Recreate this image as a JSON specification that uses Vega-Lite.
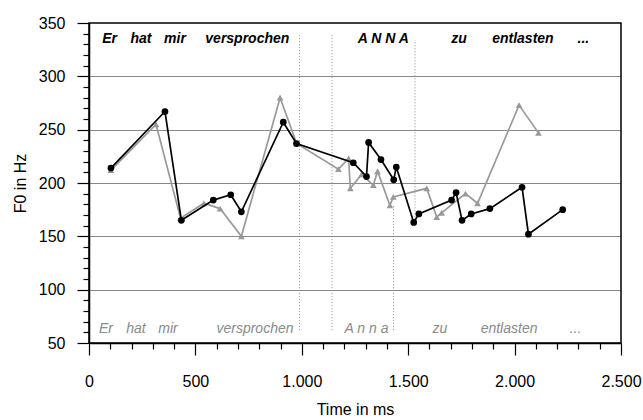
{
  "$schema": "https://vega.github.io/schema/vega-lite/v6.json",
  "width": 532,
  "height": 320,
  "autosize": {"type": "none"},
  "padding": {"left": 89, "top": 23, "right": 22, "bottom": 77},
  "background": "white",
  "config": {
    "font": "Liberation Sans",
    "view": {"stroke": "#000", "strokeWidth": 1.5},
    "axis": {
      "domainColor": "#000",
      "domainWidth": 1.5,
      "tickColor": "#000",
      "tickWidth": 1.2,
      "labelColor": "#000",
      "labelFont": "Liberation Sans",
      "labelFontSize": 16,
      "titleFont": "Liberation Sans",
      "titleFontSize": 16,
      "titleFontWeight": "normal",
      "titleColor": "#000",
      "labelOverlap": false,
      "labelFlush": false
    }
  },
  "datasets": {
    "black": [
      {"t": 103, "y": 214}, {"t": 357, "y": 267}, {"t": 434, "y": 165},
      {"t": 584, "y": 184}, {"t": 666, "y": 189}, {"t": 716, "y": 173},
      {"t": 913, "y": 257}, {"t": 975, "y": 237}, {"t": 1242, "y": 219},
      {"t": 1304, "y": 206}, {"t": 1314, "y": 238}, {"t": 1372, "y": 222},
      {"t": 1432, "y": 203}, {"t": 1444, "y": 215}, {"t": 1526, "y": 163},
      {"t": 1550, "y": 171}, {"t": 1704, "y": 184}, {"t": 1725, "y": 191},
      {"t": 1753, "y": 165}, {"t": 1796, "y": 171}, {"t": 1884, "y": 176},
      {"t": 2035, "y": 196}, {"t": 2065, "y": 152}, {"t": 2226, "y": 175}
    ],
    "gray": [
      {"t": 103, "y": 212}, {"t": 315, "y": 255}, {"t": 430, "y": 167},
      {"t": 540, "y": 181}, {"t": 616, "y": 176}, {"t": 716, "y": 150},
      {"t": 898, "y": 280}, {"t": 976, "y": 237}, {"t": 1172, "y": 213},
      {"t": 1220, "y": 223}, {"t": 1228, "y": 195}, {"t": 1281, "y": 208},
      {"t": 1336, "y": 198}, {"t": 1356, "y": 211}, {"t": 1414, "y": 179},
      {"t": 1430, "y": 187}, {"t": 1587, "y": 195}, {"t": 1634, "y": 168},
      {"t": 1657, "y": 172}, {"t": 1769, "y": 190}, {"t": 1826, "y": 181},
      {"t": 2021, "y": 273}, {"t": 2112, "y": 247}
    ],
    "bounds": [
      {"t": 989, "y": 62, "y2": 339},
      {"t": 1142, "y": 62, "y2": 339},
      {"t": 1532, "y": 165, "y2": 334},
      {"t": 1431, "y": 62, "y2": 180}
    ],
    "topWords": [
      {"t": 97, "y": 335, "w": "Er"}, {"t": 244, "y": 335, "w": "hat"},
      {"t": 404, "y": 335, "w": "mir"}, {"t": 744, "y": 335, "w": "versprochen"},
      {"t": 1383, "y": 335, "w": "A N N A"}, {"t": 1739, "y": 335, "w": "zu"},
      {"t": 2039, "y": 335, "w": "entlasten"}, {"t": 2323, "y": 335, "w": "..."}
    ],
    "bottomWords": [
      {"t": 80, "y": 63, "w": "Er"}, {"t": 221, "y": 63, "w": "hat"},
      {"t": 371, "y": 63, "w": "mir"}, {"t": 780, "y": 63, "w": "versprochen"},
      {"t": 1304, "y": 63, "w": "A n n a"}, {"t": 1649, "y": 63, "w": "zu"},
      {"t": 1974, "y": 63, "w": "entlasten"}, {"t": 2286, "y": 63, "w": "..."}
    ]
  },
  "encoding": {
    "x": {
      "field": "t", "type": "quantitative",
      "scale": {"domain": [0, 2500], "nice": false, "zero": false},
      "axis": {
        "title": "Time in ms",
        "grid": false,
        "values": [0,100,200,300,400,500,600,700,800,900,1000,1100,1200,1300,1400,1500,1600,1700,1800,1900,2000,2100,2200,2300,2400,2500],
        "labelExpr": "datum.value % 500 === 0 ? replace(format(datum.value, ','), ',', '.') : ''",
        "tickSize": {"condition": {"test": "datum.value % 500 === 0", "value": 12}, "value": 6},
        "labelPadding": 18,
        "titlePadding": 12
      }
    },
    "y": {
      "field": "y", "type": "quantitative",
      "scale": {"domain": [50, 350], "nice": false, "zero": false},
      "axis": {
        "title": "F0 in Hz",
        "values": [50,60,70,80,90,100,110,120,130,140,150,160,170,180,190,200,210,220,230,240,250,260,270,280,290,300,310,320,330,340,350],
        "labelExpr": "datum.value % 50 === 0 ? datum.label : ''",
        "tickSize": {"condition": {"test": "datum.value % 50 === 0", "value": 12}, "value": 6},
        "grid": true,
        "gridColor": "#111111",
        "gridDash": [1, 1],
        "gridWidth": 1,
        "gridOpacity": {"condition": {"test": "datum.value % 50 === 0 && datum.value > 50 && datum.value < 350", "value": 1}, "value": 0},
        "labelPadding": 12,
        "titlePadding": 10
      }
    }
  },
  "layer": [
    {
      "data": {"name": "bounds"},
      "mark": {"type": "rule", "color": "#8a8a8a", "strokeWidth": 1, "strokeDash": [1, 2]},
      "encoding": {
        "y2": {"field": "y2"}
      }
    },
    {
      "data": {"name": "gray"},
      "mark": {"type": "line", "color": "#999999", "strokeWidth": 1.7,
               "point": {"filled": true, "shape": "triangle-up", "size": 45, "color": "#999999"}},
      "encoding": {}
    },
    {
      "data": {"name": "black"},
      "mark": {"type": "line", "color": "#000000", "strokeWidth": 1.7,
               "point": {"filled": true, "shape": "circle", "size": 45, "color": "#000000"}},
      "encoding": {}
    },
    {
      "data": {"name": "topWords"},
      "mark": {"type": "text", "font": "Liberation Sans", "fontSize": 14, "fontWeight": "bold", "fontStyle": "italic", "color": "#000", "baseline": "middle", "align": "center"},
      "encoding": {
        "text": {"field": "w"}
      }
    },
    {
      "data": {"name": "bottomWords"},
      "mark": {"type": "text", "font": "Liberation Sans", "fontSize": 14, "fontStyle": "italic", "color": "#8a8a8a", "baseline": "middle", "align": "center"},
      "encoding": {
        "text": {"field": "w"}
      }
    }
  ]
}
